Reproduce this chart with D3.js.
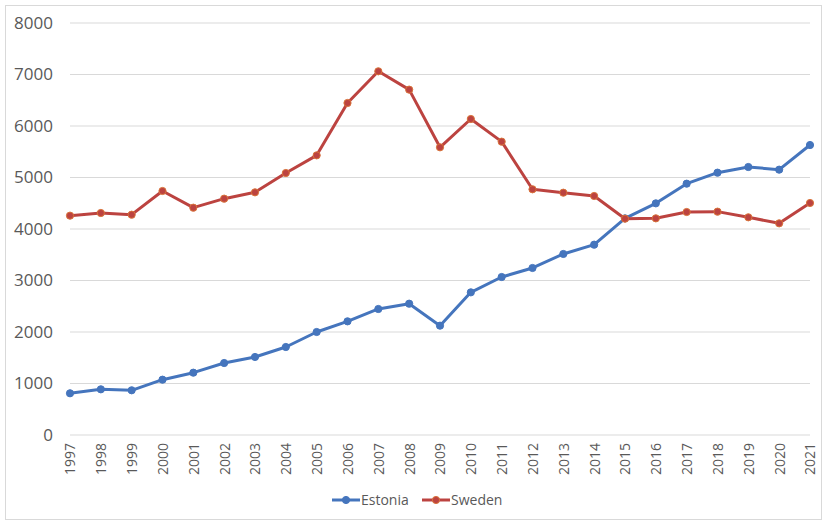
<!DOCTYPE html>
<html><head><meta charset="utf-8">
<script src="https://cdn.jsdelivr.net/npm/d3@7"></script>
<style>body{margin:0;background:#fff;}svg{display:block;font-family:"Open Sans","Noto Sans",sans-serif;}</style>
</head><body>
<svg id="c" width="827" height="524"></svg>
<script>
const years = [1997,1998,1999,2000,2001,2002,2003,2004,2005,2006,2007,2008,2009,2010,2011,2012,2013,2014,2015,2016,2017,2018,2019,2020,2021];
const estonia = [810,887,868,1074,1210,1398,1515,1709,2000,2207,2447,2550,2123,2770,3068,3243,3515,3696,4207,4498,4880,5094,5204,5152,5631];
const sweden = [4259,4311,4278,4738,4414,4589,4712,5087,5430,6447,7062,6706,5586,6136,5696,4771,4705,4641,4200,4207,4330,4337,4227,4110,4505];
const yTicks = [0,1000,2000,3000,4000,5000,6000,7000,8000];
const seriesNames = ["Estonia","Sweden"];
const colors = ["#4575bd","#bc4340"];
const markerStroke = ["#4575bd","#d9733a"];

const svg = d3.select("#c");
svg.append("rect").attr("x",5.5).attr("y",5.5).attr("width",816).attr("height",514)
  .attr("fill","#fff").attr("stroke","#d9d9d9");

const x = d3.scalePoint().domain(years).range([70,810]);
const y = d3.scaleLinear().domain([0,8000]).range([435,23]);

const g = svg.append("g");
g.selectAll("line.grid").data(yTicks).join("line")
  .attr("x1",70).attr("x2",810).attr("y1",d=>y(d)).attr("y2",d=>y(d))
  .attr("stroke","#d9d9d9").attr("stroke-width",1);

const yAxis = svg.append("g").attr("transform","translate(70,0)")
  .call(d3.axisLeft(y).tickValues(yTicks).tickFormat(d3.format("d")).tickSize(0).tickPadding(17));
yAxis.select(".domain").remove();
yAxis.selectAll("text").attr("fill","#595959").style("font-size","17px").style("font-family","'Open Sans','Noto Sans',sans-serif");

const xAxis = svg.append("g").attr("transform","translate(0,435)")
  .call(d3.axisBottom(x).tickFormat(d3.format("d")).tickSize(0));
xAxis.select(".domain").remove();
xAxis.selectAll("text").attr("fill","#595959").style("font-size","14px")
  .style("font-family","'Open Sans','Noto Sans',sans-serif")
  .attr("text-anchor","end").attr("transform","rotate(-90)")
  .attr("x",-8).attr("y",0).attr("dy","0.35em");

const data = [estonia, sweden];
const line = d3.line().x((d,i)=>x(years[i])).y(d=>y(d));
data.forEach((s,k)=>{
  svg.append("path").datum(s).attr("d",line).attr("fill","none")
    .attr("stroke",colors[k]).attr("stroke-width",3).attr("stroke-linejoin","round");
  svg.append("g").selectAll("circle").data(s).join("circle")
    .attr("cx",(d,i)=>x(years[i])).attr("cy",d=>y(d)).attr("r",3.6)
    .attr("fill",colors[k]).attr("stroke",markerStroke[k]).attr("stroke-width",1);
});

const legend = svg.append("g");
const lx = [332,422];
seriesNames.forEach((n,k)=>{
  legend.append("line").attr("x1",lx[k]).attr("x2",lx[k]+28).attr("y1",500).attr("y2",500)
    .attr("stroke",colors[k]).attr("stroke-width",3);
  legend.append("circle").attr("cx",lx[k]+14).attr("cy",500).attr("r",3.6)
    .attr("fill",colors[k]).attr("stroke",markerStroke[k]);
  legend.append("text").attr("x",lx[k]+29).attr("y",500).attr("dy","0.35em")
    .attr("fill","#595959").style("font-size","14px").text(n);
});
</script>
</body></html>
